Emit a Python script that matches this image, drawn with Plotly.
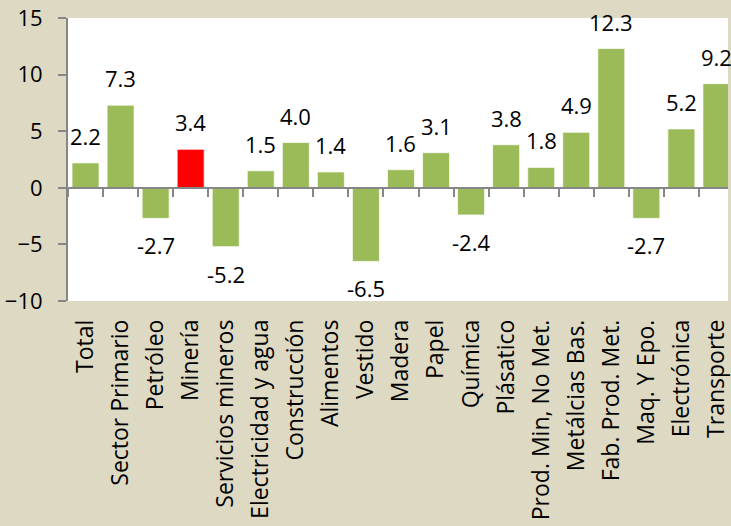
import plotly.graph_objects as go

# sector growth (%)
categories = ["Total", "Sector Primario", "Petróleo", "Minería", "Servicios mineros",
              "Electricidad y agua", "Construcción", "Alimentos", "Vestido", "Madera",
              "Papel", "Química", "Plásatico", "Prod. Min, No Met.", "Metálcias Bas.",
              "Fab. Prod. Met.", "Maq. Y Epo.", "Electrónica", "Transporte"]
values = [2.2, 7.3, -2.7, 3.4, -5.2, 1.5, 4.0, 1.4, -6.5, 1.6,
          3.1, -2.4, 3.8, 1.8, 4.9, 12.3, -2.7, 5.2, 9.2]
highlight = "Minería"

GREEN = "#9bbb59"
AXIS = "#868686"
FONT = "Open Sans"
FS = 22

colors = ["#ff0000" if c == highlight else GREEN for c in categories]

fig = go.Figure()
fig.add_trace(go.Bar(x=categories, y=values, marker_color=colors,
                     marker_line=dict(color="rgba(255,255,255,0.7)", width=1),
                     hoverinfo="x+y"))
# invisible trace to carry the zero-line axis with boundary ticks
fig.add_trace(go.Scatter(x=categories, y=[0] * len(categories), xaxis="x2",
                         mode="markers", marker_opacity=0, hoverinfo="skip"))

for c, v in zip(categories, values):
    fig.add_annotation(x=c, y=v, text=f"{v:.1f}", showarrow=False,
                       yanchor="bottom" if v >= 0 else "top",
                       yshift=10 if v >= 0 else -10,
                       font=dict(family=FONT, size=FS, color="black"))

# right edge of the chart cuts through the last bar
xrange = [-0.5, len(categories) - 0.67]
fig.update_layout(
    width=731, height=526,
    margin=dict(l=68, r=0, t=18, b=225),
    paper_bgcolor="#ddd9c3", plot_bgcolor="white",
    showlegend=False, bargap=0.23,
    font=dict(family=FONT, size=FS, color="black"),
    xaxis=dict(type="category", range=xrange, showline=False, ticks="",
               tickangle=-90, ticklabelstandoff=13, showgrid=False,
               tickfont=dict(size=23)),
    xaxis2=dict(type="category", range=xrange, overlaying="x", anchor="free",
                position=0.4, side="bottom", showline=True, linecolor=AXIS,
                linewidth=2, ticks="outside", tickson="boundaries", ticklen=8,
                tickcolor=AXIS, tickwidth=2, showticklabels=False, showgrid=False),
    yaxis=dict(range=[-10, 15], dtick=5, showgrid=False, zeroline=False,
               showline=True, linecolor=AXIS, linewidth=2, ticks="outside",
               ticklen=8, tickcolor=AXIS, tickwidth=2, ticklabelstandoff=11,
               tickfont=dict(size=FS)),
)

fig.write_html("out.html", config={"displayModeBar": False},
               post_script="document.body.style.margin='0';document.body.style.overflow='hidden';")
